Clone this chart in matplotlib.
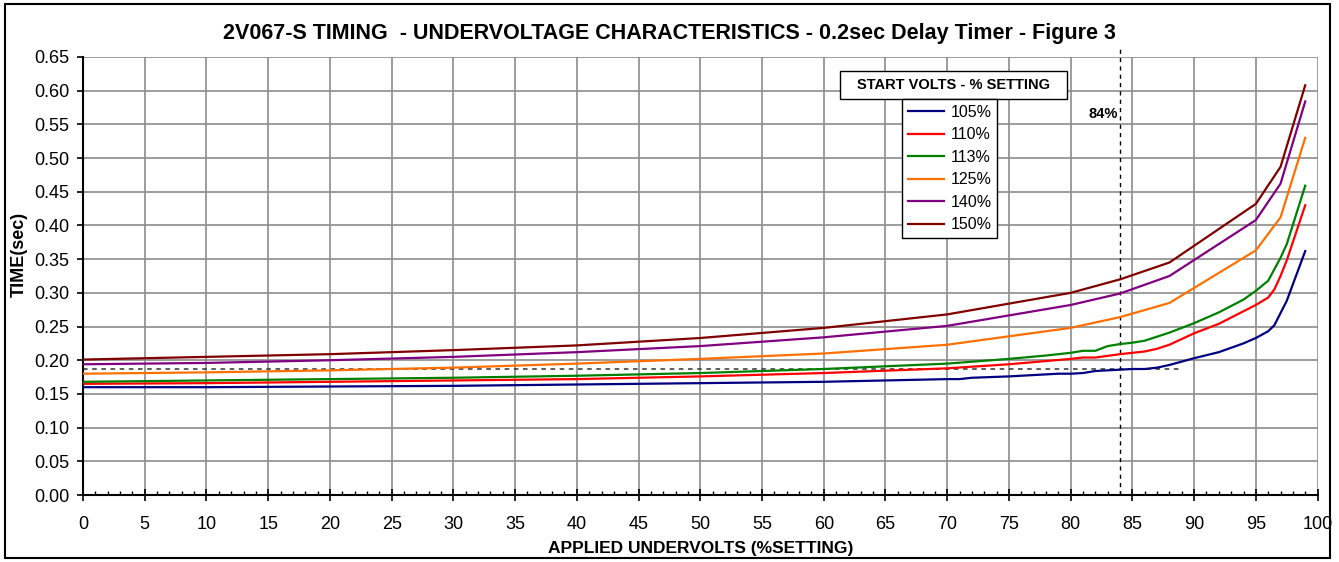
import matplotlib
matplotlib.use("Agg")
import matplotlib.pyplot as plt
from matplotlib.patches import Rectangle
from matplotlib.ticker import MultipleLocator

plt.rcParams['font.family'] = ['Liberation Sans', 'DejaVu Sans']

# Daten
labels = ['105%', '110%', '113%', '125%', '140%', '150%']
colors = ['#000080', '#FF0000', '#008000', '#FF7000', '#800080', '#800000']

x_105 = [0, 10, 20, 30, 40, 50, 60, 70, 71, 72, 75, 77, 78, 79, 80, 81, 82, 84, 85, 86, 87, 88, 90, 92, 94, 95, 96, 96.5, 97, 97.5, 99]
y_105 = [0.160, 0.160, 0.161, 0.162, 0.164, 0.166, 0.168, 0.172, 0.172, 0.174, 0.176, 0.178, 0.179, 0.180, 0.180, 0.181, 0.184, 0.186, 0.187, 0.187, 0.189, 0.193, 0.203, 0.212, 0.225, 0.233, 0.243, 0.252, 0.270, 0.288, 0.362]

x_110 = [0, 10, 20, 30, 40, 50, 60, 70, 75, 80, 81, 82, 84, 86, 87, 88, 90, 92, 95, 96, 96.5, 97, 97.5, 99]
y_110 = [0.165, 0.166, 0.168, 0.170, 0.172, 0.176, 0.181, 0.188, 0.194, 0.202, 0.204, 0.204, 0.209, 0.213, 0.217, 0.223, 0.240, 0.254, 0.282, 0.293, 0.305, 0.325, 0.348, 0.430]

x_113 = [0, 10, 20, 30, 40, 50, 60, 70, 75, 78, 80, 81, 82, 83, 84, 85, 86, 87, 88, 90, 92, 94, 95, 96, 96.5, 97, 97.5, 99]
y_113 = [0.168, 0.170, 0.172, 0.174, 0.177, 0.181, 0.187, 0.195, 0.202, 0.207, 0.211, 0.214, 0.214, 0.221, 0.224, 0.226, 0.229, 0.235, 0.241, 0.255, 0.271, 0.290, 0.303, 0.318, 0.335, 0.352, 0.372, 0.459]

x_hi = [0, 10, 20, 30, 40, 50, 60, 70, 80, 84, 88, 95, 97, 99]
y_125 = [0.180, 0.182, 0.185, 0.189, 0.195, 0.202, 0.210, 0.223, 0.248, 0.264, 0.285, 0.363, 0.412, 0.530]
y_140 = [0.194, 0.196, 0.200, 0.205, 0.212, 0.221, 0.234, 0.251, 0.282, 0.299, 0.325, 0.408, 0.462, 0.584]
y_150 = [0.201, 0.205, 0.209, 0.215, 0.222, 0.233, 0.248, 0.268, 0.300, 0.320, 0.345, 0.432, 0.487, 0.608]

series_x = [x_105, x_110, x_113, x_hi, x_hi, x_hi]
series_y = [y_105, y_110, y_113, y_125, y_140, y_150]

# Referenzlinien
ref_volts = 84
ref_time = 0.187
ref_time_end = 89

fig = plt.figure(figsize=(13.39, 5.62), dpi=100)
ax = fig.add_axes([0.062, 0.1192, 0.922, 0.7794])

for xs, ys, c, lab in zip(series_x, series_y, colors, labels):
    ax.plot(xs, ys, color=c, lw=1.6, label=lab, zorder=3)

ax.plot([0, ref_time_end], [ref_time, ref_time], color='#333333', lw=1.1, ls=(0, (3, 3)), zorder=2)
ax.plot([ref_volts, ref_volts], [0, 0.668], color='black', lw=1, ls=(0, (3, 3)), zorder=2, clip_on=False)
ax.text(ref_volts - 0.2, 0.566, '84%', fontsize=10.5, fontweight='bold', ha='right', va='center')

ax.set_xlim(0, 100)
ax.set_ylim(0, 0.65)
ax.xaxis.set_major_locator(MultipleLocator(5))
ax.xaxis.set_minor_locator(MultipleLocator(1))
ax.yaxis.set_major_locator(MultipleLocator(0.05))
ax.yaxis.set_major_formatter(plt.FormatStrFormatter('%.2f'))
ax.grid(True, which='major', color='#8c8c8c', lw=1.2)
ax.set_axisbelow(True)
for s in ['top', 'right']:
    ax.spines[s].set_visible(False)
ax.spines['left'].set_linewidth(1.5)
ax.spines['bottom'].set_linewidth(1.5)
ax.tick_params(axis='x', which='major', direction='inout', length=8, width=1.2, labelsize=13, pad=11)
ax.tick_params(axis='x', which='minor', direction='in', length=3, width=1)
ax.tick_params(axis='y', which='major', direction='out', length=4, width=1.2, labelsize=13, pad=6)

ax.set_xlabel('APPLIED UNDERVOLTS (%SETTING)', fontsize=12.5, fontweight='bold', labelpad=6)
ax.set_ylabel('TIME(sec)', fontsize=13, fontweight='bold')
ax.yaxis.set_label_coords(-0.0445, 0.55)

fig.text(0.5, 0.941, '2V067-S TIMING  - UNDERVOLTAGE CHARACTERISTICS - 0.2sec Delay Timer - Figure 3',
         ha='center', va='center', fontsize=15.5, fontweight='bold')

# Legendentitel
fig.add_artist(Rectangle((840 / 1339, (562 - 99) / 562), 227 / 1339, 28 / 562,
                         transform=fig.transFigure, facecolor='white', edgecolor='black', lw=1, zorder=5))
fig.text(953.5 / 1339, (562 - 85) / 562, 'START VOLTS - % SETTING', ha='center', va='center',
         fontsize=10.5, fontweight='bold', zorder=6)

leg = fig.legend(loc='upper left', bbox_to_anchor=(902 / 1339, (562 - 99) / 562), fontsize=11.5,
                 frameon=True, fancybox=False, edgecolor='black', framealpha=1,
                 handlelength=2.3, handletextpad=0.4, labelspacing=0.47, borderpad=0.35, borderaxespad=0)
leg.get_frame().set_linewidth(1)
leg.set_zorder(6)

fig.add_artist(Rectangle((5 / 1339, 4 / 562), 1325 / 1339, 554 / 562, transform=fig.transFigure,
                         fill=False, edgecolor='black', lw=1.5, zorder=10))

fig.savefig('out.png', dpi=100)
